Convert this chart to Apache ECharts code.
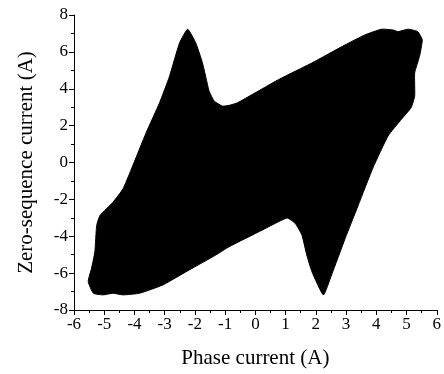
<!DOCTYPE html>
<html>
<head>
<meta charset="utf-8">
<script src="https://cdn.jsdelivr.net/npm/echarts@6/dist/echarts.min.js"></script>
<style>html,body{margin:0;padding:0;background:#fff}#c{width:444px;height:374px}</style>
</head>
<body>
<div id="c"></div>
<script>
// Boundary of the filled trajectory region (phase current, zero-sequence current)
var phaseCurrent = [-2.24,-1.97,-1.75,-1.62,-1.53,-1.36,-1.09,-0.87,-0.59,0.77,1.87,2.97,3.62,4.17,4.55,4.72,5.05,5.37,5.52,5.43,5.27,5.27,5.15,4.83,4.39,3.90,3.40,2.97,2.52,2.25,1.87,1.70,1.54,1.32,1.05,0.22,-0.87,-1.31,-2.19,-3.06,-3.83,-4.38,-4.71,-5.04,-5.36,-5.53,-5.42,-5.31,-5.25,-5.14,-4.71,-4.38,-4.10,-3.61,-3.17,-2.84,-2.51];
var zeroSeqCurrent = [7.23,6.48,5.40,4.50,3.87,3.33,3.06,3.10,3.24,4.50,5.40,6.38,6.92,7.23,7.19,7.10,7.23,7.10,6.65,5.76,4.86,3.60,2.97,2.34,1.44,-0.25,-2.33,-4.12,-6.10,-7.18,-5.92,-5.02,-3.94,-3.31,-3.01,-3.67,-4.57,-5.02,-5.83,-6.64,-7.09,-7.18,-7.09,-7.18,-7.09,-6.46,-5.74,-4.84,-3.41,-2.87,-2.15,-1.43,-0.35,1.63,3.24,4.68,6.48];
var xTicks = [-6,-5,-4,-3,-2,-1,0,1,2,3,4,5,6];
var yTicks = [-8,-6,-4,-2,0,2,4,6,8];
var xName = 'Phase current (A)';
var yName = 'Zero-sequence current (A)';

var pts = phaseCurrent.map(function(x,i){return [x, zeroSeqCurrent[i]];});
var font = '"Liberation Serif", "Times New Roman", serif';
var chart = echarts.init(document.getElementById('c'), null, {renderer:'canvas'});
var axisCommon = {
  axisLine:{show:true,onZero:false,lineStyle:{color:'#000',width:1}},
  axisTick:{show:true,inside:false,length:5,lineStyle:{color:'#000'}},
  minorTick:{show:true,splitNumber:2,length:3,lineStyle:{color:'#000'}},
  splitLine:{show:false},
  axisLabel:{color:'#000',fontFamily:font,fontSize:17,margin:6},
  nameTextStyle:{color:'#000',fontFamily:font,fontSize:21}
};
chart.setOption({
  animation:false,
  grid:{left:74,right:5,top:15,bottom:62,containLabel:false},
  xAxis:Object.assign({type:'value',min:xTicks[0],max:xTicks[xTicks.length-1],interval:1,
    name:xName,nameLocation:'middle',nameGap:38},axisCommon),
  yAxis:Object.assign({type:'value',min:yTicks[0],max:yTicks[yTicks.length-1],interval:2,
    name:yName,nameLocation:'middle',nameGap:37},axisCommon),
  series:[{
    type:'custom',
    coordinateSystem:'cartesian2d',
    data:pts,
    renderItem:function(params, api){
      if(params.dataIndex!==0) return null;
      var poly = pts.map(function(p){return api.coord(p);});
      return {type:'polygon',shape:{points:poly,smooth:0.15},style:{fill:'#000',stroke:'#000',lineWidth:1}};
    }
  }]
});
</script>
</body>
</html>
